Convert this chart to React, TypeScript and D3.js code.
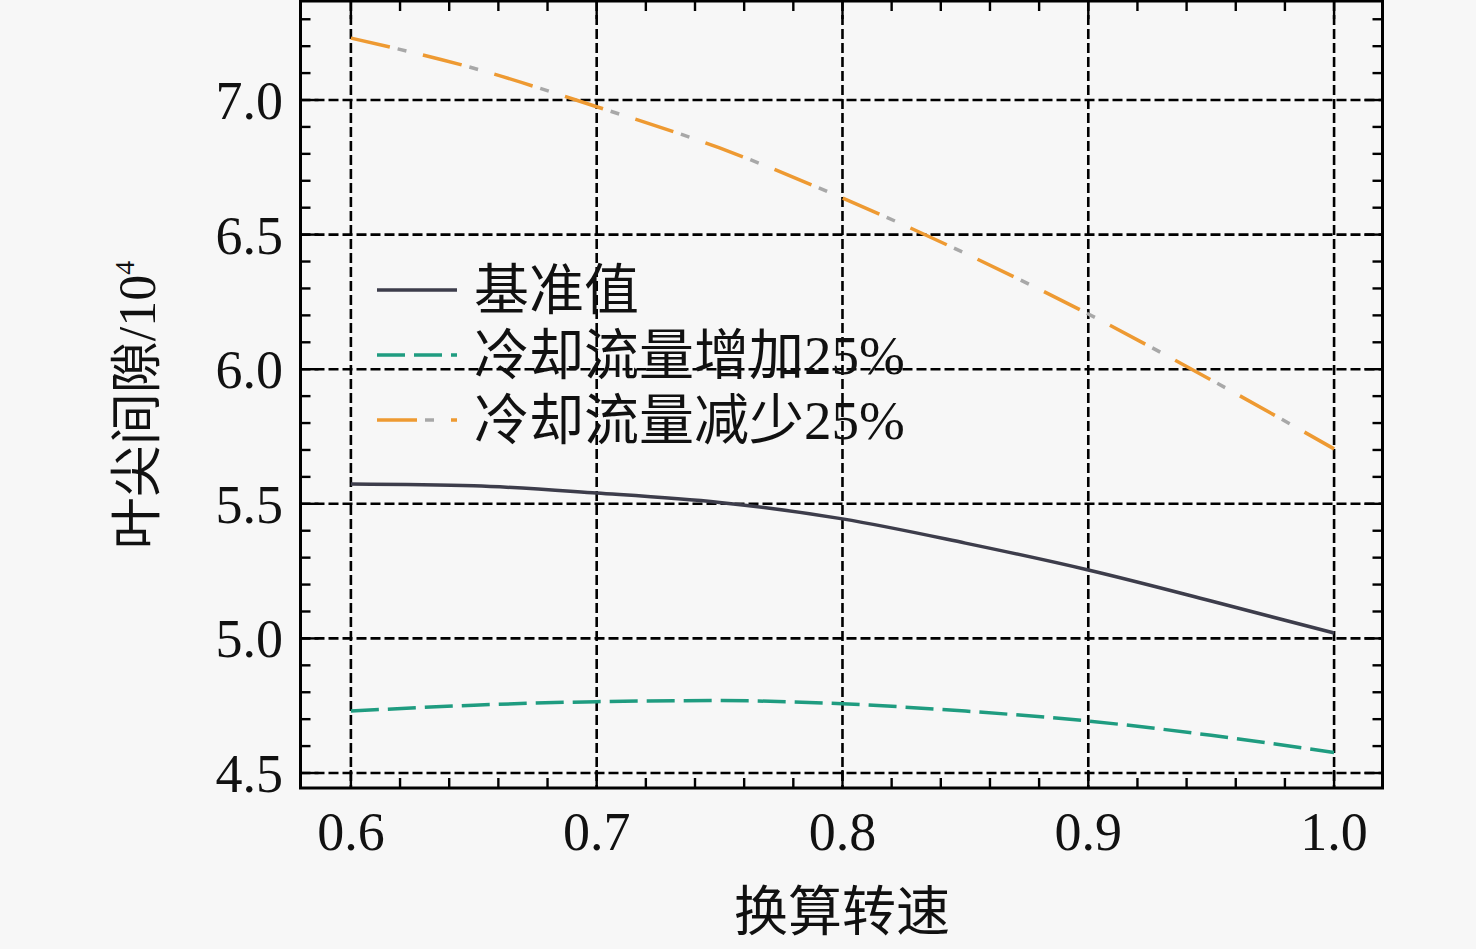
import React from "react";
import * as d3 from "d3";

const speeds = [0.6, 0.65, 0.7, 0.75, 0.8, 0.85, 0.9, 0.95, 1.0];
const baseline = [5.574, 5.567, 5.54, 5.505, 5.444, 5.354, 5.254, 5.139, 5.02];
const coolingUp = [4.73, 4.752, 4.765, 4.769, 4.757, 4.73, 4.693, 4.64, 4.576];
const coolingDown = [7.23, 7.118, 6.975, 6.822, 6.636, 6.43, 6.205, 5.96, 5.704];

const xMajor = [0.6, 0.7, 0.8, 0.9, 1.0];
const yMajor = [4.5, 5.0, 5.5, 6.0, 6.5, 7.0];
const xMinorTicks = [0.62, 0.64, 0.66, 0.68, 0.72, 0.74, 0.76, 0.78, 0.82, 0.84, 0.86, 0.88, 0.92, 0.94, 0.96, 0.98];
const yMinorTicks = [4.6, 4.7, 4.8, 4.9, 5.1, 5.2, 5.3, 5.4, 5.6, 5.7, 5.8, 5.9, 6.1, 6.2, 6.3, 6.4, 6.6, 6.7, 6.8, 6.9, 7.1, 7.2, 7.3];

const legendLabels = ["基准值", "冷却流量增加25%", "冷却流量减少25%"];
const xTitle = "换算转速";
const yTitle = "叶尖间隙/10";

const W = 1476;
const H = 949;
const L = 300.5, R = 1382.5, T = 1, B = 788;

const FONT = "'Liberation Serif', 'Times New Roman', 'Noto Sans CJK SC', serif";

export default function App() {
  const x = d3.scaleLinear().domain([0.5795, 1.0197]).range([L, R]);
  const y = d3.scaleLinear().domain([4.4443, 7.3678]).range([B, T]);

  const line = (vals: number[]) =>
    d3
      .line<number>()
      .x((_, i) => x(speeds[i]))
      .y((v) => y(v))
      .curve(d3.curveMonotoneX)(vals) || "";

  const fmt = d3.format(".1f");

  const legendY = [290, 355, 420];

  return (
    <svg
      width={W}
      height={H}
      style={{ position: "fixed", left: 0, top: 0, background: "#f7f7f7" }}
      fontFamily={FONT}
    >
      <rect x={0} y={0} width={W} height={H} fill="#f7f7f7" />

      {/* grid */}
      {xMajor.map((v) => (
        <line key={"gx" + v} x1={x(v)} x2={x(v)} y1={T} y2={B} stroke="#000" strokeWidth={2.6} strokeDasharray="10,4" />
      ))}
      {yMajor.map((v) => (
        <line key={"gy" + v} x1={L} x2={R} y1={y(v)} y2={y(v)} stroke="#000" strokeWidth={2.6} strokeDasharray="10,4" />
      ))}

      {/* ticks */}
      {xMinorTicks.map((v) => (
        <g key={"xm" + v}>
          <line x1={x(v)} x2={x(v)} y1={B} y2={B - 10} stroke="#000" strokeWidth={2.4} />
          <line x1={x(v)} x2={x(v)} y1={T} y2={T + 10} stroke="#000" strokeWidth={2.4} />
        </g>
      ))}
      {xMajor.map((v) => (
        <g key={"xM" + v}>
          <line x1={x(v)} x2={x(v)} y1={B} y2={B - 18} stroke="#000" strokeWidth={2.4} />
          <line x1={x(v)} x2={x(v)} y1={T} y2={T + 18} stroke="#000" strokeWidth={2.4} />
        </g>
      ))}
      {yMinorTicks.map((v) => (
        <g key={"ym" + v}>
          <line x1={L} x2={L + 10} y1={y(v)} y2={y(v)} stroke="#000" strokeWidth={2.4} />
          <line x1={R} x2={R - 10} y1={y(v)} y2={y(v)} stroke="#000" strokeWidth={2.4} />
        </g>
      ))}
      {yMajor.map((v) => (
        <g key={"yM" + v}>
          <line x1={L} x2={L + 18} y1={y(v)} y2={y(v)} stroke="#000" strokeWidth={2.4} />
          <line x1={R} x2={R - 18} y1={y(v)} y2={y(v)} stroke="#000" strokeWidth={2.4} />
        </g>
      ))}

      {/* frame */}
      <rect x={L} y={T} width={R - L} height={B - T} fill="none" stroke="#000" strokeWidth={3} />

      {/* data lines */}
      <path d={line(baseline)} fill="none" stroke="#3d3d4b" strokeWidth={3.5} />
      <path d={line(coolingUp)} fill="none" stroke="#1f9c80" strokeWidth={3.5} strokeDasharray="28,9" />
      <path d={line(coolingDown)} fill="none" stroke="#ee9a32" strokeWidth={3.5} strokeDasharray="40,34" />
      <path d={line(coolingDown)} fill="none" stroke="#a8a8a8" strokeWidth={3.5} strokeDasharray="9,65" strokeDashoffset={26} />

      {/* legend */}
      <line x1={377} x2={457} y1={legendY[0]} y2={legendY[0]} stroke="#3d3d4b" strokeWidth={3.5} />
      <line x1={377} x2={457} y1={legendY[1]} y2={legendY[1]} stroke="#1f9c80" strokeWidth={3.5} strokeDasharray="28,9" />
      <line x1={377} x2={457} y1={legendY[2]} y2={legendY[2]} stroke="#ee9a32" strokeWidth={3.5} strokeDasharray="40,34" />
      <line x1={377} x2={457} y1={legendY[2]} y2={legendY[2]} stroke="#a8a8a8" strokeWidth={3.5} strokeDasharray="9,65" strokeDashoffset={26} />
      {legendLabels.map((t, i) => (
        <text key={t} x={474} y={legendY[i]} dy="0.35em" fontSize={55} fill="#111">
          {t}
        </text>
      ))}

      {/* tick labels */}
      {xMajor.map((v) => (
        <text key={"xl" + v} x={x(v)} y={850} textAnchor="middle" fontSize={54} fill="#111">
          {fmt(v)}
        </text>
      ))}
      {yMajor.map((v) => (
        <text key={"yl" + v} x={283} y={y(v)} dy="0.35em" textAnchor="end" fontSize={54} fill="#111">
          {fmt(v)}
        </text>
      ))}

      {/* axis titles */}
      <text x={842} y={912} dy="0.35em" textAnchor="middle" fontSize={54} fill="#111">
        {xTitle}
      </text>
      <text
        transform={`translate(137,405) rotate(-90)`}
        textAnchor="middle"
        dy="0.35em"
        fontSize={52}
        fill="#111"
      >
        {yTitle}
        <tspan dy="-0.75em" fontSize={28}>4</tspan>
      </text>
    </svg>
  );
}
